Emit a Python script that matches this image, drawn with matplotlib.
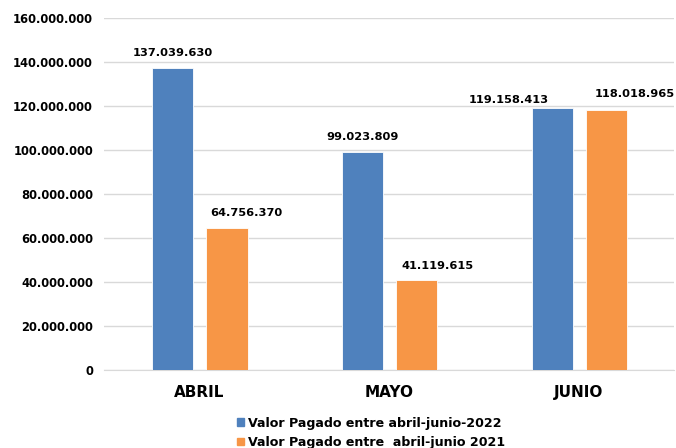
import numpy as np
import matplotlib.pyplot as plt
from matplotlib.patches import Patch

meses = ['ABRIL', 'MAYO', 'JUNIO']
valor_2022 = [137039630, 99023809, 119158413]
valor_2021 = [64756370, 41119615, 118018965]
etiquetas = ['Valor Pagado entre abril-junio-2022', 'Valor Pagado entre  abril-junio 2021']
yticks = [0, 20000000, 40000000, 60000000, 80000000, 100000000, 120000000, 140000000, 160000000]

azul = '#4F81BD'
naranja = '#F79646'


def fmt(v):
    return f'{v:,}'.replace(',', '.')


plt.rcParams['font.family'] = ['DejaVu Sans']
plt.rcParams['font.weight'] = 'bold'

fig = plt.figure(figsize=(6.76, 4.48), dpi=100)
ax = fig.add_axes([0.154, 0.174, 0.843, 0.786])

x = np.arange(len(meses))
w = 0.22
b1 = ax.bar(x - 0.14, valor_2022, w, color=azul, edgecolor='white', linewidth=0.6, zorder=3)
b2 = ax.bar(x + 0.145, valor_2021, w, color=naranja, edgecolor='white', linewidth=0.6, zorder=3)

# desplazamiento de etiquetas (x en categorias, y en pixeles aprox.)
desp_2022 = [(0.0, 15), (0.0, 15), (-0.23, 8)]
desp_2021 = [(0.105, 15), (0.11, 14), (0.15, 16)]

for bars, vals, desp in ((b1, valor_2022, desp_2022), (b2, valor_2021, desp_2021)):
    for r, v, (dx, dy) in zip(bars, vals, desp):
        ax.text(r.get_x() + r.get_width() / 2 + dx, v + dy * 160000000 / 352, fmt(v),
                ha='center', va='center', fontsize=8.2, fontweight='bold')

ax.set_ylim(0, 160000000)
ax.set_xlim(-0.5, 2.5)
ax.set_yticks(yticks)
ax.set_yticklabels([fmt(t) for t in yticks], fontsize=8.3, fontweight='bold')
ax.set_xticks(x)
ax.set_xticklabels(meses, fontsize=11, fontweight='bold')
ax.tick_params(axis='both', length=0)
ax.tick_params(axis='y', pad=8)
ax.tick_params(axis='x', pad=11)
ax.grid(axis='y', color='#D9D9D9', linewidth=1, zorder=0)
for s in ['top', 'right', 'left']:
    ax.spines[s].set_visible(False)
ax.spines['bottom'].set_color('#D9D9D9')

handles = [Patch(color=azul), Patch(color=naranja)]
fig.legend(handles, etiquetas, loc='upper left', bbox_to_anchor=(0.341, 0.084),
           frameon=False, handlelength=0.55, handleheight=0.55,
           handletextpad=0.3, labelspacing=0.5, borderpad=0, prop={'weight': 'bold', 'size': 9.1})

fig.savefig('out.png', dpi=100)
